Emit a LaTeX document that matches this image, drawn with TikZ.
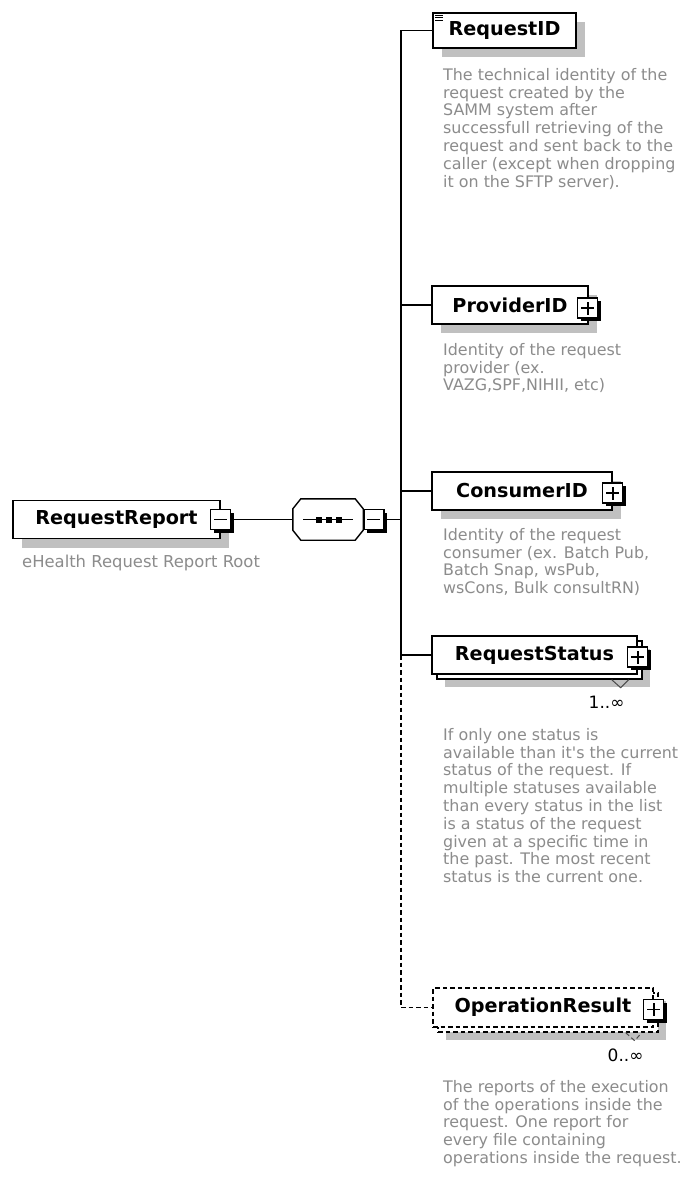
\documentclass[tikz,border=0pt]{standalone}
\usepackage{fontspec}
\setmainfont{DejaVu Sans}[Ligatures=TeXOff]
\usetikzlibrary{calc,shadows}
\definecolor{descgray}{RGB}{140,140,140}
\definecolor{shadegray}{RGB}{192,192,192}
\newcommand{\boxfont}{\fontsize{19.2}{22}\selectfont\bfseries}
\newcommand{\descfont}{\fontsize{15.9}{17.8}\selectfont}
\newcommand{\rootdescfont}{\fontsize{16.4}{18}\selectfont}

\tikzset{
  elem/.style={draw, fill=white, line width=1.4pt, inner sep=0pt, font=\boxfont,
    general shadow={fill=shadegray, shadow xshift=9pt, shadow yshift=-9pt}},
  elemmany/.style={draw, fill=white, line width=1.4pt, inner sep=0pt, font=\boxfont,
    general shadow={fill=shadegray, shadow xshift=13pt, shadow yshift=-13pt},
    general shadow={draw=black, fill=white, shadow xshift=5pt, shadow yshift=-5pt}},
  toggle/.style={draw, fill=white, line width=1.3pt, minimum size=20pt, inner sep=0pt,
    general shadow={fill=black, shadow xshift=3pt, shadow yshift=-3pt}},
  togminus/.style={toggle, path picture={
    \draw[line width=1.7pt] ([xshift=-6.5pt]path picture bounding box.center) -- ([xshift=6.5pt]path picture bounding box.center);}},
  togplus/.style={toggle, path picture={
    \draw[line width=1.7pt] ([xshift=-6.5pt]path picture bounding box.center) -- ([xshift=6.5pt]path picture bounding box.center)
      ([yshift=-6.5pt]path picture bounding box.center) -- ([yshift=6.5pt]path picture bounding box.center);}},
  desc/.style={font=\descfont, text=descgray, align=left, inner sep=0pt, anchor=north west},
  mult/.style={font=\fontsize{17}{20}\selectfont, inner sep=0pt, anchor=east},
  link/.style={line width=1.7pt},
  optional/.style={dash pattern=on 4.5pt off 3pt}
}

\begin{document}
\begin{tikzpicture}[x=1pt, y=-1pt]
\useasboundingbox[fill=white] (0,0) rectangle (684,1184);

% root element
\node[elem, minimum width=207pt, minimum height=38pt] (rr) at (116.5,519.5) {RequestReport};
\node[togminus] (rr-tog) at (rr.east) {};
\node[font=\rootdescfont, text=descgray, inner sep=0pt, anchor=north west] (rr-desc) at (22,555) {eHealth Request Report Root};

% sequence
\node[minimum width=70pt, minimum height=41pt, inner sep=0pt] (seq) at (328,519.5) {};
\fill[shadegray, shift={(9,8)}] ($(seq.north west)+(8,0)$) -- ($(seq.north east)+(-8,0)$) -- ($(seq.north east)+(0,10)$)
  -- ($(seq.south east)+(0,-10)$) -- ($(seq.south east)+(-8,0)$) -- ($(seq.south west)+(8,0)$)
  -- ($(seq.south west)+(0,-10)$) -- ($(seq.north west)+(0,10)$) -- cycle;
\draw[line width=1.4pt, fill=white] ($(seq.north west)+(8,0)$) -- ($(seq.north east)+(-8,0)$) -- ($(seq.north east)+(0,10)$)
  -- ($(seq.south east)+(0,-10)$) -- ($(seq.south east)+(-8,0)$) -- ($(seq.south west)+(8,0)$)
  -- ($(seq.south west)+(0,-10)$) -- ($(seq.north west)+(0,10)$) -- cycle;
\draw[line width=1.6pt] ($(seq.center)+(-25,0)$) -- ($(seq.center)+(25,0)$);
\foreach \d in {-9,1,11}
  \fill ($(seq.center)+(\d,0)$) +(-3,-3) rectangle +(3,3);
\node[togminus, anchor=west] (seq-tog) at (seq.east) {};
\coordinate (bar) at (401,519.5);

\draw[link] (rr-tog.east) -- (seq.west);
\draw[link] (seq-tog.east) -- (bar);

% children
\node[elem, minimum width=143pt, minimum height=35pt] (reqid) at (504.5,30.5) {RequestID};
\draw[line width=0.9pt] ($(reqid.north west)+(3,3)$) -- +(8,0) ($(reqid.north west)+(3,5.5)$) -- +(8,0) ($(reqid.north west)+(3,8)$) -- +(8,0);
\node[desc] (reqid-desc) at (443,68) {The technical identity of the\\request created by the\\SAMM system after\\successfull retrieving of the\\request and sent back to the\\caller (except when dropping\\it on the SFTP server).};

\node[elem, minimum width=156pt, minimum height=38pt] (provid) at (510,305) {ProviderID};
\node[togplus] (provid-tog) at ([xshift=-1pt, yshift=-3pt]provid.east) {};
\node[desc] (provid-desc) at (443,343) {Identity of the request\\provider (ex.\\VAZG,SPF,NIHII, etc)};

\node[elem, minimum width=180pt, minimum height=38pt] (consid) at (522,491) {ConsumerID};
\node[togplus] (consid-tog) at ([yshift=-2pt]consid.east) {};
\node[desc] (consid-desc) at (443,528) {Identity of the request\\consumer (ex. Batch Pub,\\Batch Snap, wsPub,\\wsCons, Bulk consultRN)};

\node[elemmany, minimum width=205pt, minimum height=38pt] (rstat) at (534.5,655) {RequestStatus};
\node[togplus] (rstat-tog) at ([yshift=-2pt]rstat.east) {};
\draw[line width=1pt, black!70] ($(rstat.south east)+(-26,5)$) -- ($(rstat.south east)+(-17,13)$) -- ($(rstat.south east)+(-9,5)$);
\node[mult] (rstat-mult) at ($(rstat.south east)+(-13,28)$) {1..∞};
\node[desc] (rstat-desc) at (443,728) {If only one status is\\available than it's the current\\status of the request. If\\multiple statuses available\\than every status in the list\\is a status of the request\\given at a specific time in\\the past. The most recent\\status is the current one.};

\node[elemmany, optional, minimum width=220pt, minimum height=39pt] (opres) at (543,1007.5) {OperationResult};
\node[togplus] (opres-tog) at ([yshift=-2pt]opres.east) {};
\draw[line width=1pt, black!70, optional] ($(opres.south east)+(-28,5)$) -- ($(opres.south east)+(-19,13)$) -- ($(opres.south east)+(-12,5)$);
\node[mult] (opres-mult) at ($(opres.south east)+(-10,28)$) {0..∞};
\node[desc] (opres-desc) at (443,1080) {The reports of the execution\\of the operations inside the\\request. One report for\\every file containing\\operations inside the request.};

% connectors
\draw[link] (reqid.west) -- (reqid.west -| bar) -- (rstat.west -| bar) -- (rstat.west);
\draw[link] (provid.west -| bar) -- (provid.west);
\draw[link] (consid.west -| bar) -- (consid.west);
\draw[link, optional] (rstat.west -| bar) -- (opres.west -| bar) -- (opres.west);
\end{tikzpicture}
\end{document}
